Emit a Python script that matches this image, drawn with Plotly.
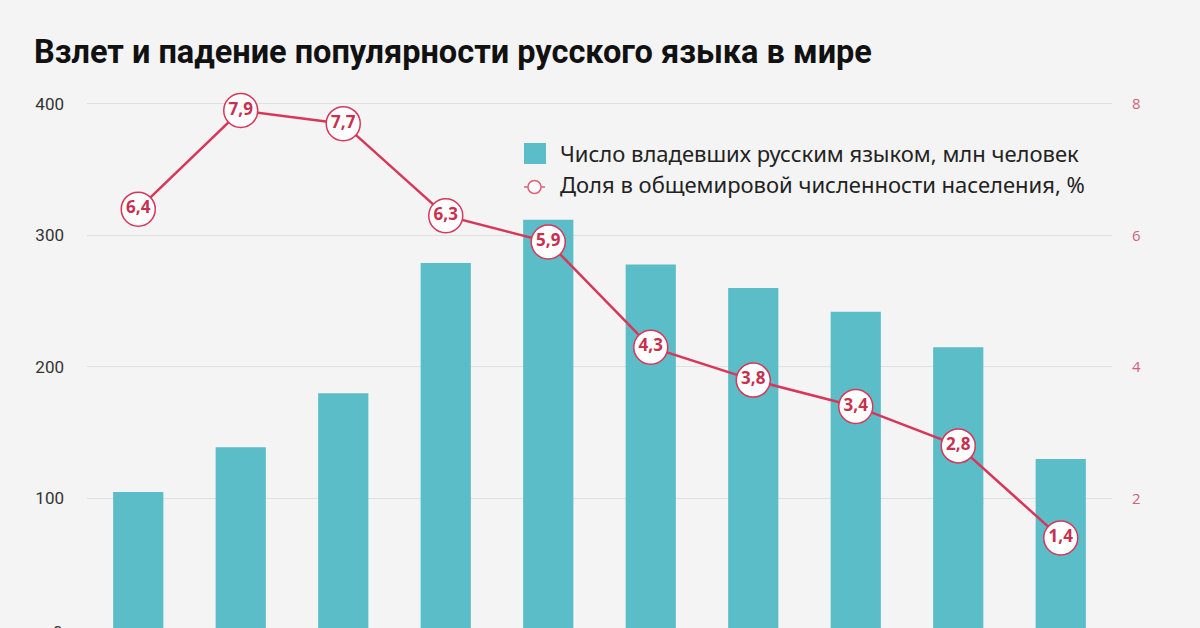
import plotly.graph_objects as go

years = ["1900", "1914", "1940", "1970", "1990", "2004", "2010", "2015", "2025", "2050"]
speakers_mln = [105, 139, 180, 279, 312, 278, 260, 242, 215, 130]
share_pct = [6.4, 7.9, 7.7, 6.3, 5.9, 4.3, 3.8, 3.4, 2.8, 1.4]
share_labels = ["6,4", "7,9", "7,7", "6,3", "5,9", "4,3", "3,8", "3,4", "2,8", "1,4"]
left_ticks = [100, 200, 300, 400]
right_ticks = [2, 4, 6, 8]

W, H = 1200, 628
ML, MR, MT, MB = 87, 88, 90, 0
PW, PH = W - ML - MR, H - MT - MB

def px(x):
    return (x - ML) / PW

def py(y):
    return (H - MB - y) / PH

BG = "#f4f4f4"
TEAL = "#5bbdc8"
RED = "#d8375a"
TXTRED = "#c8304f"

ymin, ymax = 1.52, 410.6

fig = go.Figure()
fig.add_trace(go.Bar(
    x=years, y=speakers_mln, marker=dict(color=TEAL, line=dict(width=0)),
    showlegend=False, yaxis="y", hoverinfo="skip"))
fig.add_trace(go.Scatter(
    x=years, y=share_pct, yaxis="y2", mode="lines+markers+text",
    line=dict(color=RED, width=2.5),
    marker=dict(size=34, color="white", line=dict(color=RED, width=1.5)),
    text=share_labels, textposition="middle center",
    textfont=dict(family="Open Sans", size=17, color=TXTRED, weight=700),
    showlegend=False, cliponaxis=False))

shapes = [
    dict(type="rect", xref="paper", yref="paper",
         x0=px(524), x1=px(546), y0=py(164), y1=py(143),
         fillcolor=TEAL, line=dict(width=0)),
    dict(type="line", xref="paper", yref="paper",
         x0=px(524), x1=px(545), y0=py(187), y1=py(187),
         line=dict(color="#e0607a", width=1.5)),
    dict(type="circle", xref="paper", yref="paper",
         x0=px(528), x1=px(541), y0=py(193.5), y1=py(180.5),
         fillcolor="white", line=dict(color="#e0607a", width=1.5)),
]

annotations = [
    dict(text="Взлет и падение популярности русского языка в мире",
         xref="paper", yref="paper", x=px(32), y=py(52), xanchor="left", yanchor="middle",
         showarrow=False, font=dict(family="Roboto", size=32.5, color="#111111", weight=700)),
    dict(text="Число владевших русским языком, млн человек",
         xref="paper", yref="paper", x=px(558), y=py(153), xanchor="left", yanchor="middle",
         showarrow=False, font=dict(family="Noto Sans", size=22, color="#222222")),
    dict(text="Доля в общемировой численности населения, %",
         xref="paper", yref="paper", x=px(558), y=py(184), xanchor="left", yanchor="middle",
         showarrow=False, font=dict(family="Noto Sans", size=22, color="#222222")),
    dict(text="0", xref="paper", yref="paper", x=px(65), y=py(632), xanchor="right", yanchor="middle",
         showarrow=False, font=dict(family="Roboto", size=17, color="#333333")),
    dict(text="0", xref="paper", yref="paper", x=px(1131), y=py(632), xanchor="left", yanchor="middle",
         showarrow=False, font=dict(family="Open Sans", size=15, color="#d4627a")),
]

fig.update_layout(
    width=W, height=H,
    margin=dict(l=ML, r=MR, t=MT, b=MB, pad=0),
    paper_bgcolor=BG, plot_bgcolor=BG,
    bargap=0.51,
    xaxis=dict(type="category", range=[-0.5, len(years) - 0.5], showticklabels=False,
               showgrid=False, zeroline=False, showline=False, ticks=""),
    yaxis=dict(range=[ymin, ymax], tickvals=left_ticks, showgrid=True, gridcolor="#e0e0e0",
               gridwidth=1, zeroline=False, showline=False, ticks="",
               tickfont=dict(family="Roboto", size=17, color="#333333"),
               ticklabelstandoff=22),
    yaxis2=dict(range=[ymin / 50, ymax / 50], tickvals=right_ticks, overlaying="y", side="right",
                showgrid=False, zeroline=False, showline=False, ticks="",
                tickfont=dict(family="Open Sans", size=15, color="#d4627a"),
                ticklabelstandoff=19),
    shapes=shapes, annotations=annotations,
)

fig.write_html(
    "out.html",
    config={"displayModeBar": False},
    post_script="document.body.style.margin='0';document.body.style.overflow='hidden';"
                "document.body.style.background='#f4f4f4';",
)
